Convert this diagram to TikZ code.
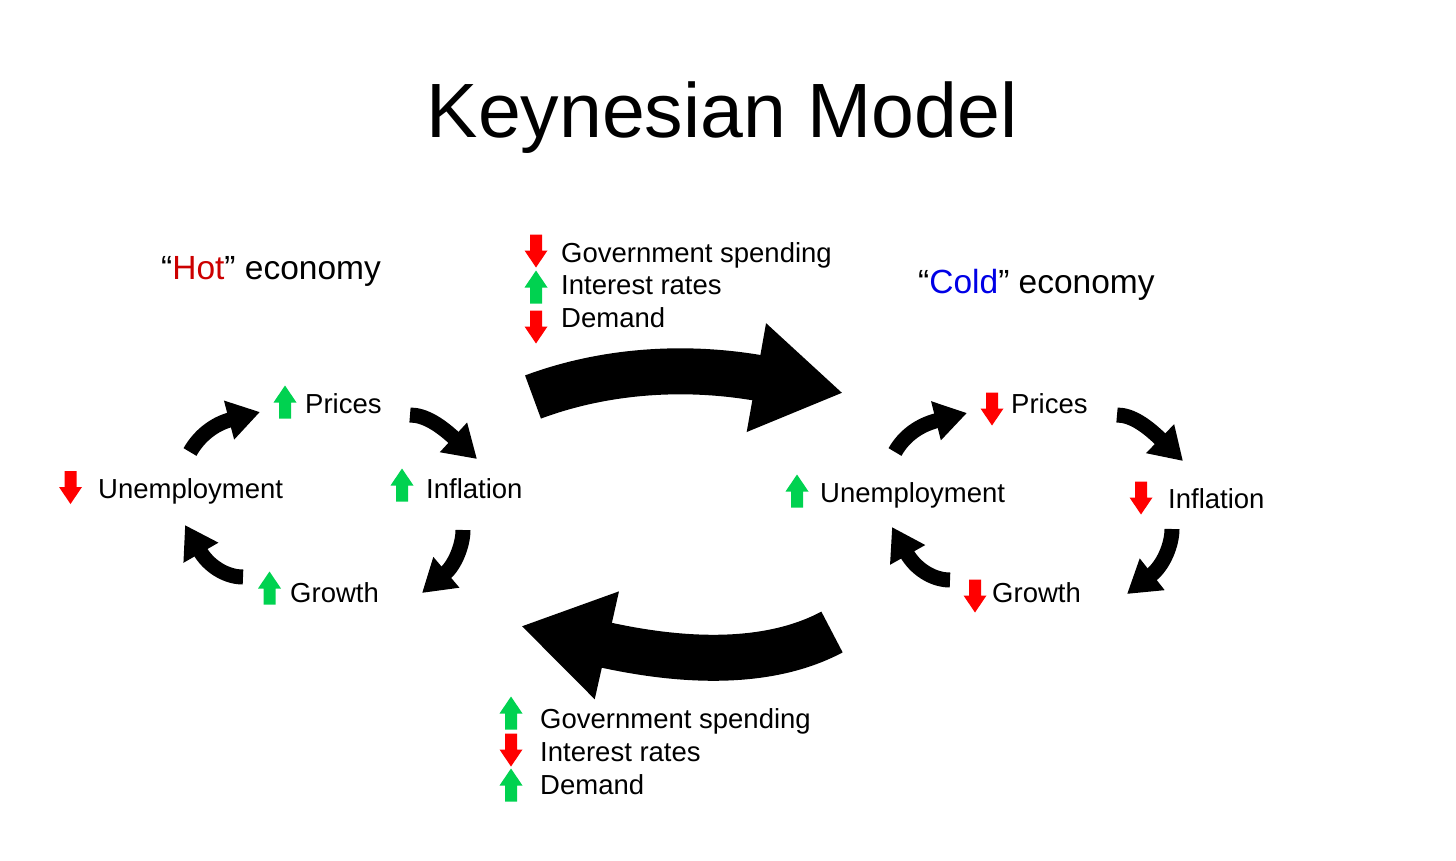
\documentclass[tikz,border=0pt]{standalone}
\usepackage{fontspec}
\setmainfont{Liberation Sans}
\usetikzlibrary{arrows.meta}

\definecolor{upgreen}{RGB}{0,210,80}
\definecolor{downred}{RGB}{255,0,0}
\definecolor{hotred}{RGB}{204,0,0}
\definecolor{coldblue}{RGB}{0,0,230}

\tikzset{
  txt/.style={anchor=base west, inner sep=0pt, font=\fontsize{27.5}{33}\selectfont},
  eco/.style={anchor=base west, inner sep=0pt, font=\fontsize{33.5}{40}\selectfont},
  cyc/.style={line width=15pt, -{Triangle[width=38pt,length=32pt]}},
  big/.style={line width=46pt, -{Triangle[width=104pt,length=88pt]}},
  rise/.pic={\fill[upgreen] (0,-16.5) -- (11.5,0.5) -- (6,0.5) -- (6,16.5) -- (-6,16.5) -- (-6,0.5) -- (-11.5,0.5) -- cycle;},
  fall/.pic={\fill[downred] (0,16.5) -- (11.5,-0.5) -- (6,-0.5) -- (6,-16.5) -- (-6,-16.5) -- (-6,-0.5) -- (-11.5,-0.5) -- cycle;}
}

\begin{document}
\begin{tikzpicture}[x=1pt, y=-1pt]
				\useasboundingbox (0,0) rectangle (1456,860);
				% title and headings
				\node[anchor=base, inner sep=0pt, font=\fontsize{77}{92}\selectfont] (T) at (722, 137) {Keynesian Model};
				\node[eco] (Hot) at (161, 279) {“{\color{hotred}Hot}” economy};
				\node[eco] (Cold) at (918, 293) {“{\color{coldblue}Cold}” economy};
				% hot cycle
				\node[txt] (PrH) at (305, 413) {Prices};
				\node[txt] (InH) at (426, 498) {Inflation};
				\node[txt] (GrH) at (290, 602) {Growth};
				\node[txt] (UnH) at (98, 498) {Unemployment};
				\pic at (285, 402) {rise};
				\pic at (402, 485) {rise};
				\pic at (269.5, 588) {rise};
				\pic at (70.5, 487.5) {fall};
				% cold cycle
				\node[txt] (PrC) at (1011, 413) {Prices};
				\node[txt] (InC) at (1168, 508) {Inflation};
				\node[txt] (GrC) at (992, 602) {Growth};
				\node[txt] (UnC) at (820, 502) {Unemployment};
				\pic at (992, 409) {fall};
				\pic at (1141, 498) {fall};
				\pic at (975, 596) {fall};
				\pic at (797, 491) {rise};
				% policy lists
				\node[txt] (GsT) at (561, 262) {Government spending};
				\node[txt] (IrT) at (561, 294) {Interest rates};
				\node[txt] (DeT) at (561, 327) {Demand};
				\pic at (536, 251) {fall};
				\pic at (536, 287) {rise};
				\pic at (536, 327) {fall};
				\node[txt] (GsB) at (540, 728) {Government spending};
				\node[txt] (IrB) at (540, 761) {Interest rates};
				\node[txt] (DeB) at (540, 794) {Demand};
				\pic at (511, 713) {rise};
				\pic at (511, 750) {fall};
				\pic at (511, 785) {rise};
				% arrow ends
				\coordinate (h1a) at (190, 452); \coordinate (h1b) at (260, 412);
				\coordinate (h2a) at (410, 415); \coordinate (h2b) at (477, 459);
				\coordinate (h3a) at (463, 530); \coordinate (h3b) at (422, 593);
				\coordinate (h4a) at (243, 577); \coordinate (h4b) at (185, 525);
				\coordinate (c1a) at (895, 452); \coordinate (c1b) at (967, 413);
				\coordinate (c2a) at (1117, 415); \coordinate (c2b) at (1183, 461);
				\coordinate (c3a) at (1172, 529); \coordinate (c3b) at (1127, 594);
				\coordinate (c4a) at (950, 580); \coordinate (c4b) at (892, 527);
				\coordinate (g1a) at (533, 397); \coordinate (g1b) at (843, 393);
				\coordinate (g2a) at (832, 632); \coordinate (g2b) at (521, 626);
				\draw[cyc] (h1a) .. controls (199, 436) and (214, 424) .. (h1b);
				\draw[cyc] (h2a) .. controls (425, 415) and (440, 425) .. (h2b);
				\draw[cyc] (h3a) .. controls (463, 545) and (455, 565) .. (h3b);
				\draw[cyc] (h4a) .. controls (225, 577) and (208, 565) .. (h4b);
				\draw[cyc] (c1a) .. controls (904, 436) and (919, 425) .. (c1b);
				\draw[cyc] (c2a) .. controls (1132, 415) and (1147, 426) .. (c2b);
				\draw[cyc] (c3a) .. controls (1172, 544) and (1164, 565) .. (c3b);
				\draw[cyc] (c4a) .. controls (932, 580) and (915, 568) .. (c4b);
				\draw[big] (g1a) .. controls (600, 372) and (680, 364) .. (g1b);
				\draw[big] (g2a) .. controls (772, 664) and (690, 664) .. (g2b);
			\end{tikzpicture}
\end{document}
